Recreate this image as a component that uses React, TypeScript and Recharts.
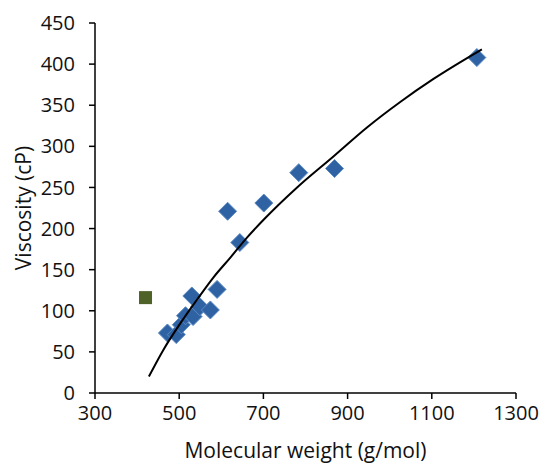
import { ScatterChart, Scatter, XAxis, YAxis, Label } from 'recharts';

// molecular weight (g/mol) and viscosity (cP) of the blue samples
const sampleMw = [472, 493, 505, 515, 533, 530, 549, 574, 590, 615, 644, 701, 784, 869, 1207];
const sampleVisc = [73, 71, 83, 94, 93, 118, 105, 101, 126, 221, 183, 231, 268, 273, 408];

// the odd one out (green square)
const outlierMw = [420];
const outlierVisc = [116];

// points
const trendMw = [428, 463, 503, 543, 582, 622, 661, 701, 780, 867, 946, 1025, 1104, 1219];
const trendVisc = [20, 53, 85, 114, 141, 165, 189, 211, 250, 288, 323, 354, 382, 418];

const xTicks = [300, 500, 700, 900, 1100, 1300];
const yTicks = [0, 50, 100, 150, 200, 250, 300, 350, 400, 450];

const samples = sampleMw.map((mw, i) => ({ mw, visc: sampleVisc[i] }));
const outliers = outlierMw.map((mw, i) => ({ mw, visc: outlierVisc[i] }));
const trend = trendMw.map((mw, i) => ({ mw, visc: trendVisc[i] }));

const font = '"Open Sans", sans-serif';

const Diamond = (props: any) => {
  const { cx, cy } = props;
  if (cx == null || cy == null) return null;
  const r = 9;
  return (
    <polygon
      points={`${cx},${cy - r} ${cx + r},${cy} ${cx},${cy + r} ${cx - r},${cy}`}
      fill="#2f62a3"
      stroke="#5b8ac4"
      strokeWidth={1}
    />
  );
};

const Square = (props: any) => {
  const { cx, cy } = props;
  if (cx == null || cy == null) return null;
  const s = 13;
  return <rect x={cx - s / 2} y={cy - s / 2} width={s} height={s} fill="#4f6228" />;
};

const App = () => {
  return (
    <div style={{ position: 'absolute', left: 0, top: 0 }}>
      <ScatterChart
        width={540}
        height={465}
        margin={{ top: 23, right: 24, left: 0, bottom: 0 }}
      >
        <XAxis
          type="number"
          dataKey="mw"
          domain={[300, 1300]}
          ticks={xTicks}
          allowDataOverflow
          height={72}
          tickSize={6}
          tickMargin={7}
          stroke="#000"
          strokeWidth={1.5}
          tick={{ fill: '#111', fontSize: 20, fontFamily: font }}
        >
          <Label
            value="Molecular weight (g/mol)"
            position="insideBottom"
            offset={7}
            style={{ fill: '#111', fontSize: 21, fontFamily: font }}
          />
        </XAxis>
        <YAxis
          type="number"
          dataKey="visc"
          domain={[0, 450]}
          ticks={yTicks}
          allowDataOverflow
          width={95}
          tickSize={6}
          tickMargin={14}
          stroke="#000"
          strokeWidth={1.5}
          tick={{ fill: '#111', fontSize: 20, fontFamily: font }}
        >
          <Label
            value="Viscosity (cP)"
            angle={-90}
            position="insideLeft"
            offset={24}
            style={{ fill: '#111', fontSize: 21, fontFamily: font, textAnchor: 'middle' }}
          />
        </YAxis>
        <Scatter data={outliers} shape={<Square />} isAnimationActive={false} />
        <Scatter data={samples} shape={<Diamond />} isAnimationActive={false} />
        <Scatter
          data={trend}
          line={{ stroke: '#000', strokeWidth: 2 }}
          lineJointType="monotoneX"
          shape={() => null}
          isAnimationActive={false}
        />
      </ScatterChart>
    </div>
  );
};

export default App;
